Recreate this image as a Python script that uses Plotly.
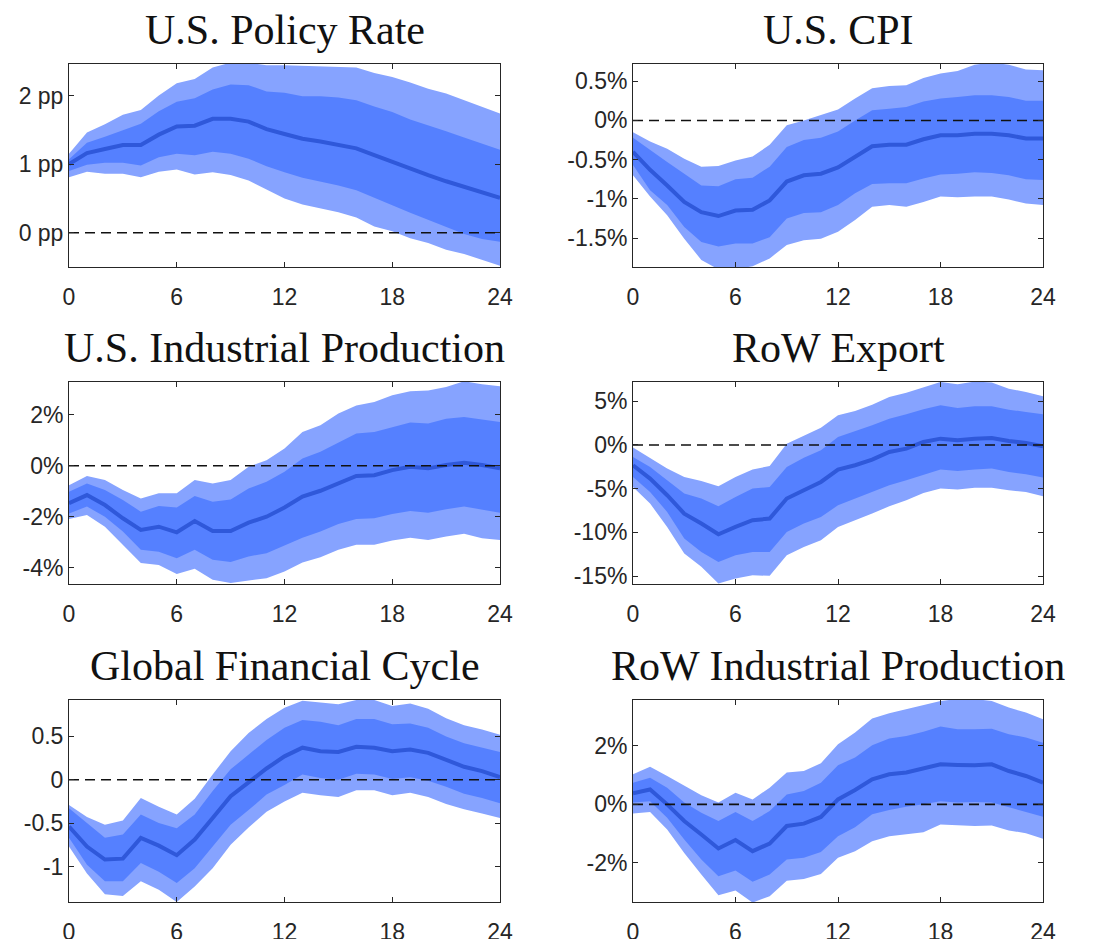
import plotly.graph_objects as go
from plotly.subplots import make_subplots

horizon = list(range(25))

titles = ["U.S. Policy Rate", "U.S. CPI", "U.S. Industrial Production",
          "RoW Export", "Global Financial Cycle", "RoW Industrial Production"]

# U.S. Policy Rate (pp)
pr_med = [1.00,1.16,1.22,1.28,1.28,1.43,1.55,1.56,1.66,1.66,1.62,1.51,1.44,1.37,1.33,1.28,1.23,1.13,1.03,0.93,0.84,0.75,0.67,0.59,0.51]
pr_hi68 = [1.07,1.31,1.40,1.50,1.59,1.77,1.91,1.96,2.09,2.16,2.15,2.06,2.04,1.99,1.99,1.97,1.93,1.84,1.76,1.65,1.57,1.48,1.39,1.30,1.21]
pr_lo68 = [0.90,0.99,1.02,1.02,0.98,1.10,1.15,1.13,1.18,1.15,1.08,0.97,0.88,0.80,0.74,0.69,0.62,0.51,0.40,0.29,0.18,0.08,-0.02,-0.09,-0.13]
pr_hi90 = [1.15,1.46,1.58,1.72,1.79,2.00,2.18,2.24,2.41,2.48,2.48,2.44,2.44,2.43,2.43,2.42,2.41,2.33,2.27,2.19,2.10,2.03,1.93,1.84,1.74]
pr_lo90 = [0.81,0.89,0.86,0.86,0.81,0.89,0.92,0.85,0.88,0.84,0.76,0.63,0.50,0.41,0.36,0.30,0.22,0.09,0.02,-0.08,-0.15,-0.25,-0.31,-0.40,-0.48]

# U.S. CPI (%)
cpi_med = [-0.40,-0.63,-0.83,-1.04,-1.17,-1.22,-1.15,-1.14,-1.02,-0.78,-0.70,-0.68,-0.60,-0.46,-0.33,-0.31,-0.31,-0.24,-0.19,-0.19,-0.17,-0.17,-0.19,-0.23,-0.23]
cpi_hi68 = [-0.22,-0.38,-0.53,-0.68,-0.83,-0.84,-0.75,-0.73,-0.59,-0.34,-0.25,-0.22,-0.14,0.00,0.13,0.15,0.17,0.24,0.28,0.30,0.32,0.32,0.30,0.25,0.25]
cpi_lo68 = [-0.57,-0.89,-1.08,-1.36,-1.55,-1.61,-1.57,-1.57,-1.49,-1.25,-1.18,-1.17,-1.08,-0.93,-0.81,-0.80,-0.80,-0.74,-0.69,-0.68,-0.66,-0.67,-0.70,-0.75,-0.76]
cpi_hi90 = [-0.15,-0.27,-0.36,-0.49,-0.59,-0.58,-0.51,-0.46,-0.31,-0.06,0.00,0.07,0.14,0.28,0.41,0.44,0.45,0.54,0.60,0.63,0.71,0.74,0.71,0.65,0.64]
cpi_lo90 = [-0.70,-0.97,-1.21,-1.51,-1.78,-1.90,-1.90,-1.86,-1.76,-1.59,-1.53,-1.51,-1.42,-1.27,-1.10,-1.08,-1.10,-1.04,-0.97,-0.98,-0.97,-0.97,-1.01,-1.06,-1.08]

# U.S. Industrial Production (%)
usip_med = [-1.47,-1.15,-1.54,-2.06,-2.52,-2.39,-2.61,-2.17,-2.56,-2.56,-2.23,-2.00,-1.64,-1.21,-0.98,-0.69,-0.40,-0.37,-0.17,-0.04,-0.10,0.03,0.12,0.03,-0.10]
usip_hi68 = [-1.02,-0.69,-0.95,-1.34,-1.80,-1.58,-1.64,-1.19,-1.41,-1.32,-0.89,-0.63,-0.23,0.29,0.55,0.90,1.27,1.33,1.53,1.70,1.66,1.85,1.92,1.81,1.72]
usip_lo68 = [-1.87,-1.60,-2.00,-2.58,-3.30,-3.37,-3.63,-3.30,-3.69,-3.78,-3.56,-3.43,-3.14,-2.82,-2.58,-2.28,-2.09,-2.06,-1.89,-1.77,-1.84,-1.71,-1.60,-1.73,-1.84]
usip_hi90 = [-0.76,-0.40,-0.56,-0.95,-1.28,-1.08,-1.08,-0.56,-0.69,-0.56,-0.04,0.22,0.68,1.33,1.59,2.05,2.37,2.50,2.77,2.93,2.96,3.09,3.32,3.20,3.12]
usip_lo90 = [-2.09,-1.93,-2.39,-3.10,-3.82,-3.89,-4.25,-4.04,-4.47,-4.60,-4.50,-4.41,-4.15,-3.80,-3.59,-3.30,-3.10,-3.10,-2.93,-2.82,-2.91,-2.78,-2.67,-2.84,-2.91]

# RoW Export (%)
rex_med = [-2.32,-3.85,-5.75,-7.85,-8.99,-10.21,-9.37,-8.61,-8.42,-6.13,-5.18,-4.23,-2.82,-2.32,-1.68,-0.80,-0.42,0.34,0.72,0.53,0.72,0.80,0.46,0.23,-0.15]
rex_hi68 = [-1.37,-2.51,-4.04,-5.56,-6.13,-7.01,-5.94,-4.99,-4.80,-2.51,-1.45,-0.61,0.91,1.56,2.25,3.01,3.50,4.08,4.53,4.23,4.42,4.42,4.04,3.77,3.50]
rex_lo68 = [-3.66,-5.37,-7.66,-10.70,-12.23,-13.37,-12.61,-12.23,-12.23,-9.94,-8.99,-8.23,-6.90,-6.13,-5.37,-4.61,-4.04,-3.47,-2.82,-2.97,-2.82,-2.70,-3.09,-3.35,-3.73]
rex_hi90 = [-0.30,-1.45,-2.70,-3.66,-4.11,-4.72,-3.66,-2.82,-2.40,0.15,1.10,1.98,3.39,3.89,4.61,5.49,5.98,6.63,7.20,6.93,7.25,7.15,6.44,6.06,5.56]
rex_lo90 = [-4.80,-6.70,-9.37,-12.42,-13.94,-15.85,-15.28,-14.90,-14.97,-12.61,-11.66,-10.90,-9.37,-8.61,-7.85,-7.01,-6.32,-5.49,-4.99,-5.10,-4.88,-4.88,-5.18,-5.37,-5.87]

# Global Financial Cycle
gfc_med = [-0.54,-0.77,-0.92,-0.91,-0.67,-0.76,-0.87,-0.69,-0.44,-0.19,-0.03,0.13,0.27,0.37,0.33,0.32,0.38,0.37,0.33,0.35,0.31,0.23,0.15,0.10,0.03]
gfc_hi68 = [-0.33,-0.50,-0.67,-0.63,-0.40,-0.50,-0.56,-0.40,-0.13,0.12,0.29,0.46,0.60,0.69,0.67,0.63,0.70,0.70,0.64,0.65,0.60,0.50,0.42,0.37,0.32]
gfc_lo68 = [-0.67,-0.98,-1.17,-1.17,-0.96,-1.06,-1.19,-1.02,-0.77,-0.52,-0.35,-0.17,-0.06,0.06,0.02,0.00,0.07,0.06,0.01,0.03,-0.01,-0.08,-0.16,-0.21,-0.27]
gfc_hi90 = [-0.29,-0.43,-0.52,-0.47,-0.21,-0.31,-0.40,-0.22,0.06,0.33,0.54,0.70,0.83,0.91,0.89,0.87,0.92,0.92,0.85,0.88,0.82,0.71,0.63,0.58,0.52]
gfc_lo90 = [-0.77,-1.08,-1.32,-1.34,-1.17,-1.27,-1.41,-1.23,-1.02,-0.75,-0.55,-0.37,-0.25,-0.15,-0.18,-0.20,-0.12,-0.12,-0.18,-0.15,-0.20,-0.28,-0.34,-0.39,-0.44]

# RoW Industrial Production (%)
rip_med = [0.38,0.51,0.00,-0.57,-1.03,-1.51,-1.22,-1.60,-1.34,-0.74,-0.66,-0.43,0.17,0.49,0.86,1.03,1.09,1.23,1.37,1.35,1.34,1.37,1.14,0.97,0.74]
rip_hi68 = [0.74,0.91,0.57,0.06,-0.29,-0.57,-0.26,-0.57,-0.23,0.34,0.46,0.74,1.34,1.60,2.02,2.25,2.34,2.48,2.66,2.57,2.57,2.59,2.40,2.29,2.11]
rip_lo68 = [0.06,0.11,-0.46,-1.20,-1.89,-2.46,-2.26,-2.65,-2.40,-1.89,-1.83,-1.63,-1.09,-0.78,-0.34,-0.19,-0.08,0.00,0.11,0.06,0.08,0.06,-0.11,-0.26,-0.42]
rip_hi90 = [1.03,1.29,0.97,0.63,0.31,0.06,0.40,0.17,0.57,1.09,1.14,1.41,2.06,2.46,2.94,3.12,3.26,3.39,3.54,3.60,3.60,3.54,3.31,3.14,2.91]
rip_lo90 = [-0.31,-0.26,-0.86,-1.66,-2.40,-3.11,-2.95,-3.36,-3.14,-2.61,-2.55,-2.38,-1.83,-1.60,-1.26,-1.09,-1.03,-0.95,-0.69,-0.72,-0.74,-0.72,-0.89,-0.99,-1.18]

# y tick values / labels and ranges
pr_ticks = [0, 1, 2];            pr_labels = ["0 pp", "1 pp", "2 pp"]
cpi_ticks = [-1.5, -1, -0.5, 0, 0.5]; cpi_labels = ["-1.5%", "-1%", "-0.5%", "0%", "0.5%"]
usip_ticks = [-4, -2, 0, 2];     usip_labels = ["-4%", "-2%", "0%", "2%"]
rex_ticks = [-15, -10, -5, 0, 5]; rex_labels = ["-15%", "-10%", "-5%", "0%", "5%"]
gfc_ticks = [-1, -0.5, 0, 0.5];  gfc_labels = ["-1", "-0.5", "0", "0.5"]
rip_ticks = [-2, 0, 2];          rip_labels = ["-2%", "0%", "2%"]
x_ticks = [0, 6, 12, 18, 24]

y_ranges = [[-0.5, 2.46], [-1.87, 0.72], [-4.64, 3.29], [-15.9, 7.2], [-1.41, 0.92], [-3.34, 3.57]]

panels = [
    (pr_med, pr_lo68, pr_hi68, pr_lo90, pr_hi90, pr_ticks, pr_labels),
    (cpi_med, cpi_lo68, cpi_hi68, cpi_lo90, cpi_hi90, cpi_ticks, cpi_labels),
    (usip_med, usip_lo68, usip_hi68, usip_lo90, usip_hi90, usip_ticks, usip_labels),
    (rex_med, rex_lo68, rex_hi68, rex_lo90, rex_hi90, rex_ticks, rex_labels),
    (gfc_med, gfc_lo68, gfc_hi68, gfc_lo90, gfc_hi90, gfc_ticks, gfc_labels),
    (rip_med, rip_lo68, rip_hi68, rip_lo90, rip_hi90, rip_ticks, rip_labels),
]

# page body margin offset: the figure starts 8px in from the window corner
OFF = 8
W, H = 1093 - OFF, 939 - OFF
# plot boxes in window pixels (left, right, top, bottom)
col_x = [(69, 500), (633, 1043)]
row_y = [(64, 267), (382, 584), (700, 902)]

C_OUT = "#86a3ff"
C_IN = "#5580ff"
C_MED = "#2f58da"
AX = "#262626"
TICKFONT = dict(family="Liberation Sans, Arial", size=23, color=AX)

fig = make_subplots(rows=3, cols=2)

for i, (med, lo68, hi68, lo90, hi90, yt, yl) in enumerate(panels):
    r, c = i // 2 + 1, i % 2 + 1
    xr = horizon + horizon[::-1]
    fig.add_trace(go.Scatter(x=xr, y=hi90 + lo90[::-1], fill="toself", fillcolor=C_OUT,
                             line=dict(width=0), mode="lines", hoverinfo="skip"), row=r, col=c)
    fig.add_trace(go.Scatter(x=xr, y=hi68 + lo68[::-1], fill="toself", fillcolor=C_IN,
                             line=dict(width=0), mode="lines", hoverinfo="skip"), row=r, col=c)
    fig.add_trace(go.Scatter(x=horizon, y=med, mode="lines",
                             line=dict(color=C_MED, width=4)), row=r, col=c)
    fig.add_trace(go.Scatter(x=[horizon[0], horizon[-1]], y=[0, 0], mode="lines",
                             line=dict(color="#111111", width=1.6, dash="10px,6px")), row=r, col=c)

    x0, x1 = col_x[c - 1]
    t0, b0 = row_y[r - 1]
    fig.update_xaxes(domain=[(x0 - OFF) / W, (x1 - OFF) / W], range=[0, 24], tickvals=x_ticks,
                     ticktext=[str(v) for v in x_ticks], automargin=False,
                     ticks="inside", ticklen=5, tickcolor=AX, tickwidth=1,
                     showline=True, linecolor=AX, linewidth=1, mirror="ticks",
                     showgrid=False, zeroline=False, ticklabelstandoff=9,
                     tickfont=TICKFONT, row=r, col=c)
    fig.update_yaxes(domain=[1 - (b0 - OFF) / H, 1 - (t0 - OFF) / H], range=y_ranges[i],
                     tickvals=yt, ticktext=yl, automargin=False,
                     ticks="inside", ticklen=5, tickcolor=AX, tickwidth=1,
                     showline=True, linecolor=AX, linewidth=1, mirror="ticks",
                     showgrid=False, zeroline=False, ticklabelstandoff=0,
                     tickfont=TICKFONT, row=r, col=c)
    fig.add_annotation(text=titles[i], xref="paper", yref="paper",
                       x=((x0 + x1) / 2 - OFF) / W, y=1 - (t0 - OFF) / H,
                       xanchor="center", yanchor="bottom",
                       yshift=9, showarrow=False,
                       font=dict(family="Liberation Serif, Times New Roman", size=42, color="#111111"))

fig.update_layout(width=W, height=H, margin=dict(l=0, r=0, t=0, b=0, autoexpand=False),
                  paper_bgcolor="white", plot_bgcolor="white", showlegend=False)

fig.write_html("out.html")
